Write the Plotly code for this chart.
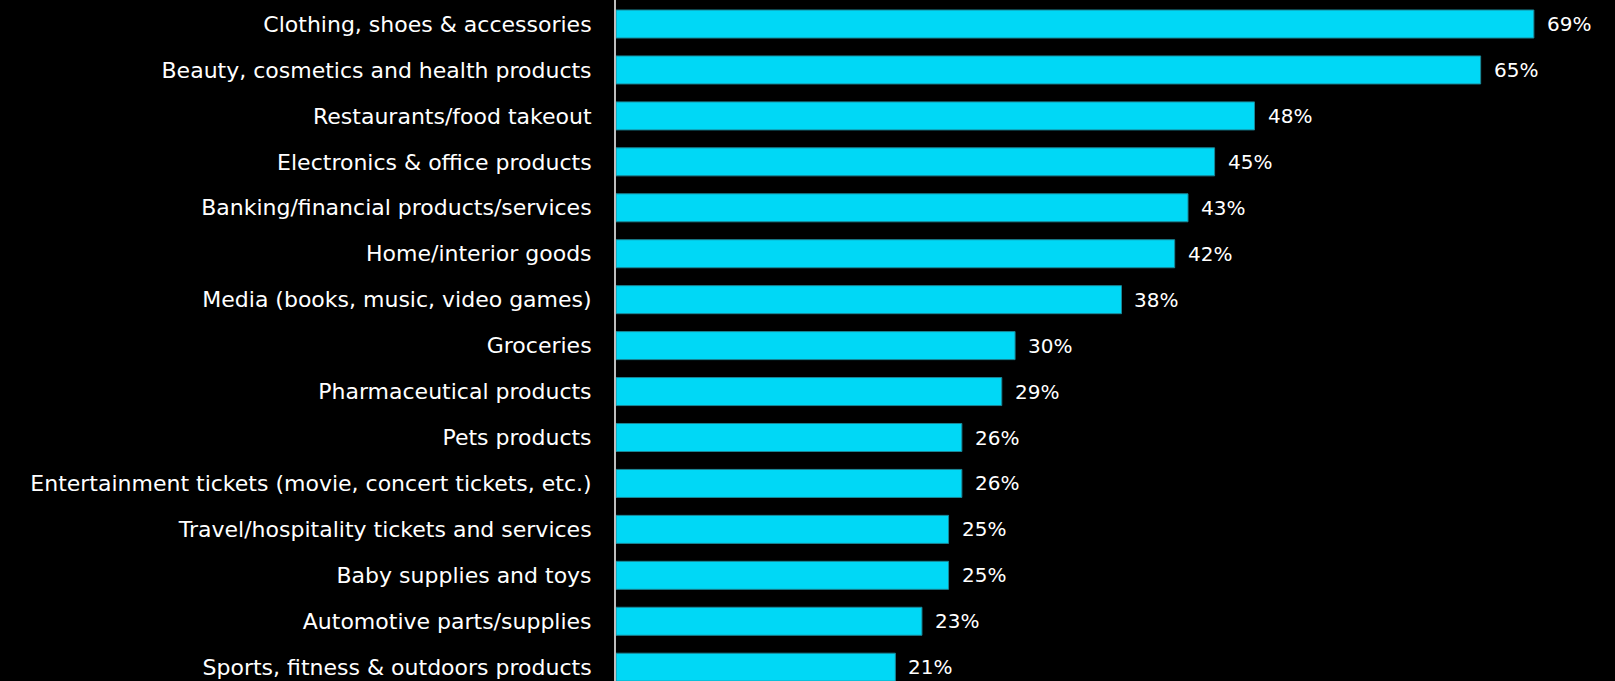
import plotly.graph_objects as go

categories = [
    "Clothing, shoes & accessories",
    "Beauty, cosmetics and health products",
    "Restaurants/food takeout",
    "Electronics & office products",
    "Banking/financial products/services",
    "Home/interior goods",
    "Media (books, music, video games)",
    "Groceries",
    "Pharmaceutical products",
    "Pets products",
    "Entertainment tickets (movie, concert tickets, etc.)",
    "Travel/hospitality tickets and services",
    "Baby supplies and toys",
    "Automotive parts/supplies",
    "Sports, fitness & outdoors products",
]
values = [69, 65, 48, 45, 43, 42, 38, 30, 29, 26, 26, 25, 25, 23, 21]

FONT = "DejaVu Sans"

fig = go.Figure(
    go.Bar(
        x=values,
        y=categories,
        orientation="h",
        width=0.61,
        marker=dict(color="#00D8F6", line=dict(color="#1A8696", width=1)),
        hoverinfo="skip",
    )
)

for v, c in zip(values, categories):
    fig.add_annotation(
        x=v, y=c, text=f"{v}%", showarrow=False, xanchor="left", xshift=11,
        font=dict(family=FONT, size=20, color="white"),
    )

fig.update_layout(
    width=1615,
    height=681,
    margin=dict(l=616, r=0, t=0, b=0, autoexpand=False),
    paper_bgcolor="black",
    plot_bgcolor="black",
    showlegend=False,
    bargap=0.39,
)
fig.update_xaxes(range=[0, 75.1], visible=False, showgrid=False, zeroline=False)
fig.update_yaxes(
    type="category",
    categoryorder="array",
    categoryarray=categories,
    range=[14.30, -0.5225],
    showgrid=False,
    zeroline=False,
    showline=True,
    linecolor="#BEBEBE",
    linewidth=2,
    ticks="",
    ticklabelstandoff=18,
    tickfont=dict(family=FONT, size=22, color="white"),
)

fig.write_html(
    "out.html",
    config={"displayModeBar": False},
    post_script="document.body.style.margin='0';document.body.style.background='black';",
)
